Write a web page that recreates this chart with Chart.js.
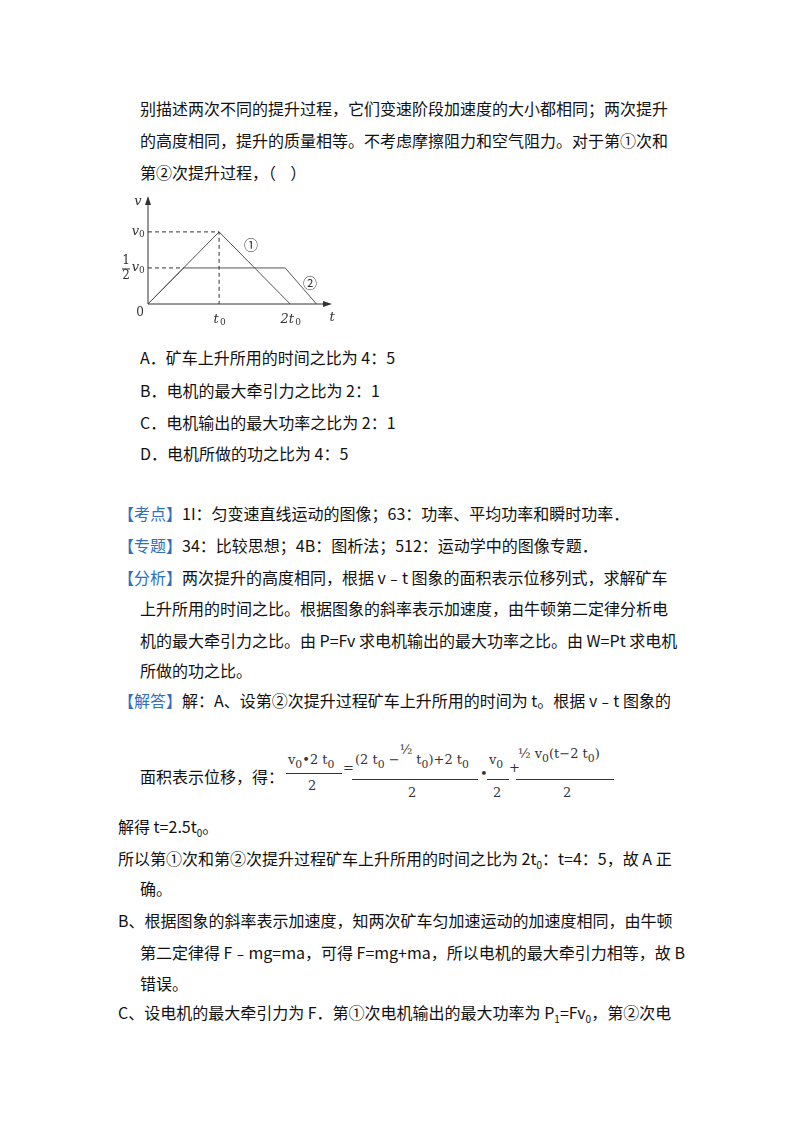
<!DOCTYPE html>
<html>
<head>
<meta charset="utf-8">
<script src="https://cdn.jsdelivr.net/npm/chart.js@4/dist/chart.umd.min.js"></script>
<style>
body{margin:0;background:#fff;width:800px;height:1132px;position:relative;font-family:"Noto Sans CJK SC","Noto Sans",sans-serif;color:#111;font-size:16px;}
.l{position:absolute;white-space:nowrap;line-height:20px;}
.b{color:#2e6fc0;}
#wrap{position:absolute;left:100px;top:185px;width:250px;height:150px;}
.f{position:absolute;font-family:"DejaVu Serif",serif;font-size:13px;color:#333;white-space:nowrap;}
.hr{position:absolute;border-top:1px solid #333;height:0;}
</style>
</head>
<body>
<div class="l" style="left:140px;top:98px">别描述两次不同的提升过程，它们变速阶段加速度的大小都相同；两次提升</div>
<div class="l" style="left:140px;top:130px">的高度相同，提升的质量相等。不考虑摩擦阻力和空气阻力。对于第①次和</div>
<div class="l" style="left:140px;top:162px">第②次提升过程，（&nbsp;&nbsp;&nbsp;&nbsp;）</div>
<div id="wrap"><canvas id="c"></canvas></div>
<div class="l" style="left:140px;top:347px">A．矿车上升所用的时间之比为 4：5</div>
<div class="l" style="left:140px;top:380px">B．电机的最大牵引力之比为 2：1</div>
<div class="l" style="left:140px;top:412px">C．电机输出的最大功率之比为 2：1</div>
<div class="l" style="left:140px;top:443px">D．电机所做的功之比为 4：5</div>
<div class="l" style="left:118px;top:503px"><span class="b">【考点】</span>1I：匀变速直线运动的图像；63：功率、平均功率和瞬时功率．</div>
<div class="l" style="left:118px;top:535px"><span class="b">【专题】</span>34：比较思想；4B：图析法；512：运动学中的图像专题．</div>
<div class="l" style="left:118px;top:567px"><span class="b">【分析】</span>两次提升的高度相同，根据 v﹣t 图象的面积表示位移列式，求解矿车</div>
<div class="l" style="left:140px;top:598px">上升所用的时间之比。根据图象的斜率表示加速度，由牛顿第二定律分析电</div>
<div class="l" style="left:140px;top:630px">机的最大牵引力之比。由 P=Fv 求电机输出的最大功率之比。由 W=Pt 求电机</div>
<div class="l" style="left:140px;top:660px">所做的功之比。</div>
<div class="l" style="left:118px;top:690px"><span class="b">【解答】</span>解：A、设第②次提升过程矿车上升所用的时间为 t。根据 v﹣t 图象的</div>
<div class="l" style="left:140px;top:766px">面积表示位移，得：</div>
<div class="f" style="left:288px;top:752px">v<sub>0</sub>•2 t<sub>0</sub></div>
<div class="hr" style="left:286px;top:773px;width:56px"></div>
<div class="f" style="left:308px;top:778px">2</div>
<div class="f" style="left:343px;top:760px">=</div>
<div class="f" style="left:355px;top:752px">(2 t<sub>0</sub> −<span style="position:relative;top:-10px">½</span> t<sub>0</sub>)+2 t<sub>0</sub></div>
<div class="hr" style="left:352px;top:779px;width:126px"></div>
<div class="f" style="left:408px;top:785px">2</div>
<div class="f" style="left:480px;top:766px">•</div>
<div class="f" style="left:489px;top:752px">v<sub>0</sub></div>
<div class="hr" style="left:487px;top:779px;width:22px"></div>
<div class="f" style="left:493px;top:785px">2</div>
<div class="f" style="left:509px;top:760px">+</div>
<div class="f" style="left:518px;top:746px">½ v<sub>0</sub>(t−2 t<sub>0</sub>)</div>
<div class="hr" style="left:516px;top:779px;width:98px"></div>
<div class="f" style="left:563px;top:785px">2</div>
<div class="l" style="left:118px;top:816px">解得 t=2.5t<sub style="font-size:10px">0</sub>。</div>
<div class="l" style="left:118px;top:848px">所以第①次和第②次提升过程矿车上升所用的时间之比为 2t<sub style="font-size:10px">0</sub>：t=4：5，故 A 正</div>
<div class="l" style="left:140px;top:878px">确。</div>
<div class="l" style="left:118px;top:910px">B、根据图象的斜率表示加速度，知两次矿车匀加速运动的加速度相同，由牛顿</div>
<div class="l" style="left:140px;top:942px">第二定律得 F﹣mg=ma，可得 F=mg+ma，所以电机的最大牵引力相等，故 B</div>
<div class="l" style="left:140px;top:973px">错误。</div>
<div class="l" style="left:118px;top:1002px">C、设电机的最大牵引力为 F．第①次电机输出的最大功率为 P<sub style="font-size:10px">1</sub>=Fv<sub style="font-size:10px">0</sub>，第②次电</div>
<script>
// data (t in units of t0, v in units of v0)
const line1T = [0, 1, 2];
const line1V = [0, 1, 0];
const line2T = [0, 0.5, 1.93, 2.37];
const line2V = [0, 0.5, 0.5, 0];
const tMax = 2.56, vMax = 1.47;

const pts = (ts, vs) => ts.map((t, i) => ({x: t, y: vs[i]}));

const axesPlugin = {
  id: 'axes',
  afterDatasetsDraw(chart) {
    const g = chart.ctx, x = chart.scales.x, y = chart.scales.y;
    const X = v => x.getPixelForValue(v), Y = v => y.getPixelForValue(v);
    g.save();
    g.strokeStyle = '#333'; g.fillStyle = '#333'; g.lineWidth = 1;
    // axes
    g.beginPath(); g.moveTo(X(0), Y(0)); g.lineTo(X(tMax), Y(0));
    g.moveTo(X(0), Y(0)); g.lineTo(X(0), Y(vMax)); g.stroke();
    g.beginPath(); g.moveTo(X(tMax) + 2, Y(0)); g.lineTo(X(tMax) - 7, Y(0) - 3); g.lineTo(X(tMax) - 7, Y(0) + 3); g.fill();
    g.beginPath(); g.moveTo(X(0), Y(vMax) - 2); g.lineTo(X(0) - 3, Y(vMax) + 7); g.lineTo(X(0) + 3, Y(vMax) + 7); g.fill();
    // dashed guides
    g.setLineDash([4, 3]);
    g.beginPath();
    g.moveTo(X(0), Y(1)); g.lineTo(X(1), Y(1)); g.lineTo(X(1), Y(0));
    g.moveTo(X(0), Y(0.5)); g.lineTo(X(0.5), Y(0.5));
    g.stroke(); g.setLineDash([]);
    // labels
    g.font = 'italic 13px "DejaVu Serif", serif';
    g.textBaseline = 'middle';
    g.textAlign = 'center';
    g.fillText('t', X(tMax) + 2, Y(0) + 14);
    g.fillText('v', X(0) - 10, Y(vMax) + 4);
    g.fillText('t', X(1) - 3, Y(0) + 16);
    g.fillText('2t', X(2) - 3, Y(0) + 16);
    g.textAlign = 'right';
    g.fillText('v', X(0) - 9, Y(1));
    g.fillText('v', X(0) - 9, Y(0.5));
    g.font = '9px "DejaVu Serif", serif';
    g.textAlign = 'left';
    g.fillText('0', X(1) + 1, Y(0) + 19);
    g.fillText('0', X(2) + 5, Y(0) + 19);
    g.fillText('0', X(0) - 9, Y(1) + 3);
    g.fillText('0', X(0) - 9, Y(0.5) + 3);
    g.font = '12px "DejaVu Serif", serif';
    g.textAlign = 'center';
    g.fillText('0', X(0) - 8, Y(0) + 9);
    g.fillText('1', X(0) - 22, Y(0.5) - 7);
    g.fillText('2', X(0) - 22, Y(0.5) + 8);
    g.beginPath(); g.moveTo(X(0) - 26, Y(0.5) + 1); g.lineTo(X(0) - 18, Y(0.5) + 1); g.stroke();
    g.font = '14px "Noto Sans CJK SC", sans-serif';
    g.fillText('①', X(1.45), Y(0.82));
    g.fillText('②', X(2.28), Y(0.29));
    g.restore();
  }
};

new Chart(document.getElementById('c'), {
  type: 'scatter',
  data: {
    datasets: [
      {data: pts(line1T, line1V), showLine: true, borderColor: '#555', borderWidth: 1, pointRadius: 0},
      {data: pts(line2T, line2V), showLine: true, borderColor: '#555', borderWidth: 1, pointRadius: 0}
    ]
  },
  options: {
    responsive: true, maintainAspectRatio: false, animation: false,
    layout: {padding: {left: 48, right: 20, top: 13, bottom: 31}},
    plugins: {legend: {display: false}, tooltip: {enabled: false}},
    scales: {
      x: {type: 'linear', min: 0, max: tMax, display: false},
      y: {type: 'linear', min: 0, max: vMax, display: false}
    }
  },
  plugins: [axesPlugin]
});
</script>
</body>
</html>
